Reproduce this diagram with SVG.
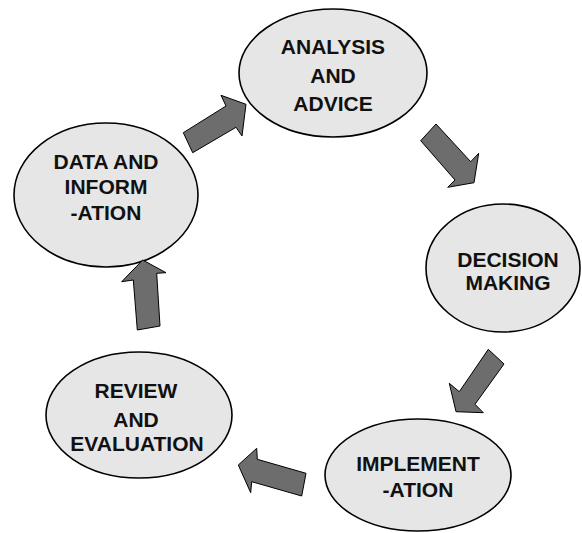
<svg xmlns="http://www.w3.org/2000/svg" width="582" height="533" viewBox="0 0 582 533">
<style>
.node ellipse{fill:#e6e6e6;stroke:#000;stroke-width:1.6}
.node text{font-family:"Liberation Sans",Arial,sans-serif;font-weight:bold;font-size:21px;fill:#111;text-anchor:middle}
.arrow{fill:#6d6d6d;stroke:#000;stroke-width:1;stroke-linejoin:miter}
</style>
<rect width="582" height="533" fill="#fff"/>
<g id="analysis" class="node">
<ellipse cx="333" cy="73" rx="94" ry="64"/>
<text x="333" y="54">ANALYSIS</text>
<text x="333" y="83">AND</text>
<text x="333" y="111">ADVICE</text>
</g>
<g id="decision" class="node">
<ellipse cx="503" cy="268" rx="77" ry="64"/>
<text x="508" y="267">DECISION</text>
<text x="508" y="290">MAKING</text>
</g>
<g id="implementation" class="node">
<ellipse cx="418" cy="475" rx="93" ry="56"/>
<text x="418" y="471">IMPLEMENT</text>
<text x="418" y="497">-ATION</text>
</g>
<g id="review" class="node">
<ellipse cx="139" cy="415" rx="93" ry="63"/>
<text x="136" y="398">REVIEW</text>
<text x="136" y="427">AND</text>
<text x="137" y="451">EVALUATION</text>
</g>
<g id="data" class="node">
<ellipse cx="106" cy="195" rx="92" ry="72"/>
<text x="106" y="169">DATA AND</text>
<text x="106" y="194">INFORM</text>
<text x="106" y="220">-ATION</text>
</g>
<g id="connectors">
<polygon class="arrow" points="183.3,132.7 226,106 221,95.3 246,104.3 242,136 236,127.3 192.7,152.7"/>
<polygon class="arrow" points="420.7,140.7 436,124 470.7,161.7 478.7,153.3 474,182.7 447.7,187.3 455,180"/>
<polygon class="arrow" points="488.3,349.3 504,364 475,404.3 483.3,412.7 456,411.7 449.3,383.3 459.3,391.7"/>
<polygon class="arrow" points="306,473.3 301.7,496 251.7,481.7 250.7,492.7 238.3,465 256.7,448.3 257.3,459.3"/>
<polygon class="arrow" points="160,326 137.3,330 133.3,280 121.7,281.7 142.7,260 166,272.7 156.7,273.3"/>
</g>
</svg>
